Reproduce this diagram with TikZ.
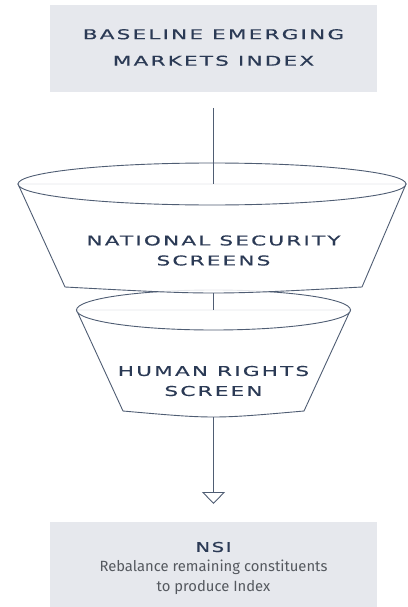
\documentclass[tikz,border=0pt]{standalone}
\usepackage{fontspec}
\usetikzlibrary{arrows.meta}
\newfontfamily\headfont[FakeStretch=1.6,LetterSpace=16,FakeBold=0.3]{DejaVu Sans}
\newfontfamily\nsifont[FakeStretch=1.45,LetterSpace=12,FakeBold=0.8]{DejaVu Sans}
\newfontfamily\bodyfont{Fira Sans}
\definecolor{navy}{HTML}{2B3A55}
\definecolor{linec}{HTML}{4F5D73}
\definecolor{boxfill}{HTML}{E6E8ED}
\definecolor{greytxt}{HTML}{55595F}
\begin{document}
\begin{tikzpicture}[x=1pt,y=-1pt,
  head/.style={text=navy, align=center, inner sep=0pt, font=\headfont\fontsize{13.5}{20}\selectfont},
  body/.style={text=greytxt, align=center, inner sep=0pt, font=\bodyfont\fontsize{14.8}{19.5}\selectfont},
  funnel/.style={draw=linec, line width=0.9pt, fill=white, fill opacity=0.85},
  conn/.style={draw=linec, line width=0.9pt}]
\useasboundingbox (0,0) rectangle (407,607);
% top box
\fill[boxfill] (50,5) rectangle (377,92);
\node[head, font=\headfont\fontsize{13.5}{26.5}\selectfont] (top) at (213.5,47.5) {BASELINE EMERGING\\MARKETS INDEX};
\coordinate (c0) at (213.5,108);
% funnel 2 (behind)
\coordinate (e2c) at (213.5,310);
\path[funnel] (76.5,310) -- (123,411) .. controls (213.5,419) .. (304,411) -- (350.5,310) -- cycle;
\path[funnel] (e2c) ellipse [x radius=137, y radius=20];
\coordinate (f2b) at (213.5,417);
% funnel 1 (front)
\coordinate (e1c) at (212,184);
\path[funnel] (18,184) -- (65,287) .. controls (213.5,295) .. (362,287) -- (406,184) -- cycle;
\path[funnel] (e1c) ellipse [x radius=194, y radius=21];
\coordinate (f1b) at (213.5,293);
% texts
\node[head] (ns) at (213.5,250.5) {NATIONAL SECURITY\\SCREENS};
\node[head] (hr) at (213.5,381) {HUMAN RIGHTS\\SCREEN};
% connectors
\draw[conn] (c0) -- (213.5,184);
\draw[conn] (f1b) -- (e2c);
\coordinate (tip) at (213.5,504);
\draw[conn, -{Triangle[open, width=23pt, length=12pt]}] (f2b) -- (tip);
% bottom box
\fill[boxfill] (50,522) rectangle (377,607);
\node[head, font=\nsifont\fontsize{13.5}{20}\selectfont] (nsi) at (213.5,547) {NSI};
\node[body] (reb) at (213.5,577.5) {Rebalance remaining constituents\\to produce Index};
\end{tikzpicture}
\end{document}
